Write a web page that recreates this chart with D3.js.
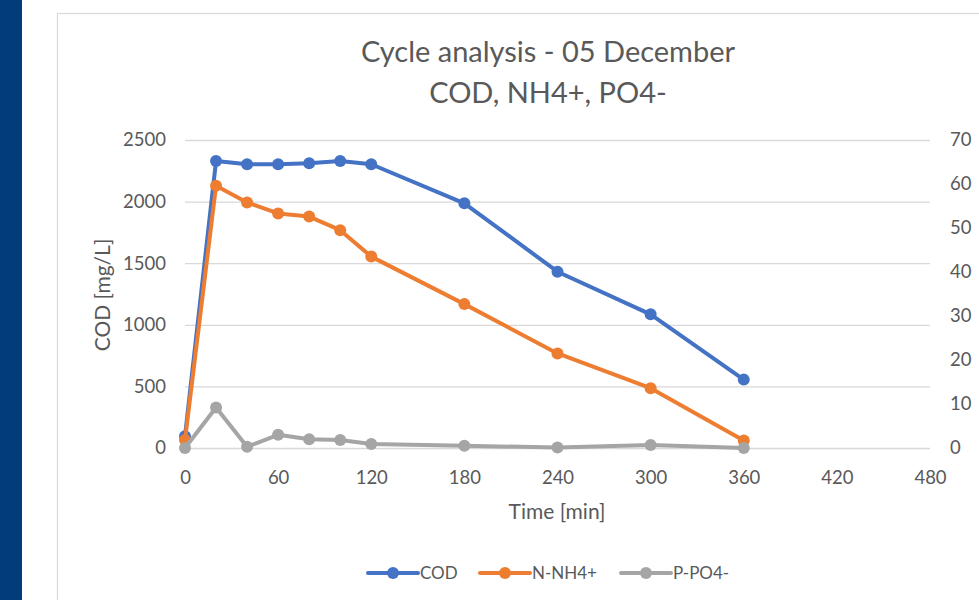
<!DOCTYPE html>
<meta charset="utf-8">
<style>
	body {
		margin: 0;
		background: #fff;
		font-family: Lato, "Open Sans", sans-serif;
	}
	svg text {
		fill: #595959;
		font-family: Lato, "Open Sans", sans-serif;
	}
</style>
<body>
<svg id="chart" width="979" height="600"></svg>
</body>
<script src="https://cdn.jsdelivr.net/npm/d3@7"></script>
<script>
	// values
	var times = [0, 20, 40, 60, 80, 100, 120, 180, 240, 300, 360];
	var cod = [95, 2330, 2303, 2303, 2311, 2330, 2303, 1986, 1431, 1085, 555]; // left axis, mg/L
	var nh4 = [1.8, 59.6, 55.8, 53.3, 52.6, 49.5, 43.5, 32.7, 21.5, 13.6, 1.7]; // right axis
	var po4 = [0, 9.2, 0.3, 3.0, 2.0, 1.8, 0.9, 0.5, 0.1, 0.7, 0]; // right axis
	var xTicks = [0, 60, 120, 180, 240, 300, 360, 420, 480];
	var leftTicks = [0, 500, 1000, 1500, 2000, 2500];
	var rightTicks = [0, 10, 20, 30, 40, 50, 60, 70];

	var series = [
		{name: "COD", values: cod, axis: "left", color: "#4472C4"},
		{name: "N-NH4+", values: nh4, axis: "right", color: "#ED7D31"},
		{name: "P-PO4-", values: po4, axis: "right", color: "#A5A5A5"}
	];

	var svg = d3.select("#chart");

	// dark side bar + chart frame
	svg.append("rect").attr("x", 0).attr("y", 0).attr("width", 22).attr("height", 600).attr("fill", "#023d7a");
	svg.append("rect").attr("x", 57.5).attr("y", 13.5).attr("width", 960).attr("height", 620)
		.attr("fill", "#fff").attr("stroke", "#d9d9d9").attr("stroke-width", 1.2);

	var x = d3.scaleLinear().domain([0, 480]).range([185, 930]);
	var yL = d3.scaleLinear().domain([0, 2500]).range([448, 140]);
	var yR = d3.scaleLinear().domain([0, 70]).range([448, 140]);

	// gridlines
	svg.append("g").selectAll("line").data(leftTicks).join("line")
		.attr("x1", 185).attr("x2", 930)
		.attr("y1", d => yL(d) + 0.5).attr("y2", d => yL(d) + 0.5)
		.attr("stroke", "#d9d9d9").attr("stroke-width", 1.3);

	// axes (no domain lines, Excel style)
	var gx = svg.append("g").attr("transform", "translate(0,448)")
		.call(d3.axisBottom(x).tickValues(xTicks).tickFormat(d3.format("d")).tickSize(0));
	var gl = svg.append("g").attr("transform", "translate(185,0)")
		.call(d3.axisLeft(yL).tickValues(leftTicks).tickFormat(d3.format("d")).tickSize(0).tickPadding(19));
	var gr = svg.append("g").attr("transform", "translate(930,0)")
		.call(d3.axisRight(yR).tickValues(rightTicks).tickFormat(d3.format("d")).tickSize(0).tickPadding(20));
	[gx, gl, gr].forEach(function(g) {
		g.select(".domain").remove();
		g.selectAll("text").attr("font-size", 18.5).attr("font-family", "Lato").attr("fill", "#595959");
	});
	gx.selectAll("text").attr("dy", "0.35em").attr("y", 30);

	// lines + markers
	var lineG = svg.append("g");
	series.forEach(function(s) {
		var yS = s.axis === "left" ? yL : yR;
		var pts = times.map((t, i) => [t, s.values[i]]);
		lineG.append("path").datum(pts)
			.attr("fill", "none").attr("stroke", s.color).attr("stroke-width", 4)
			.attr("stroke-linejoin", "round")
			.attr("d", d3.line().x(d => x(d[0])).y(d => yS(d[1])));
		lineG.append("g").selectAll("circle").data(pts).join("circle")
			.attr("cx", d => x(d[0])).attr("cy", d => yS(d[1])).attr("r", 6)
			.attr("fill", s.color);
	});

	// titles
	var title = svg.append("text").attr("text-anchor", "middle")
		.attr("font-size", 29).attr("font-family", "Lato");
	title.append("tspan").attr("x", 548).attr("y", 62).text("Cycle analysis - 05 December");
	title.append("tspan").attr("x", 548).attr("y", 103).text("COD, NH4+, PO4-");

	svg.append("text").attr("x", 557).attr("y", 519).attr("text-anchor", "middle")
		.attr("font-size", 21).attr("font-family", "Lato").text("Time [min]");
	svg.append("text").attr("transform", "translate(110,295) rotate(-90)")
		.attr("text-anchor", "middle").attr("font-size", 21).attr("font-family", "Lato")
		.text("COD [mg/L]");

	// legend
	var legX = [368, 480, 621];
	var leg = svg.append("g").selectAll("g").data(series).join("g")
		.attr("transform", (d, i) => "translate(" + legX[i] + ",573)");
	leg.append("line").attr("x1", 0).attr("x2", 50).attr("stroke", d => d.color).attr("stroke-width", 4)
		.attr("stroke-linecap", "round");
	leg.append("circle").attr("cx", 25).attr("r", 6).attr("fill", d => d.color);
	leg.append("text").attr("x", 52).attr("dy", "0.35em").attr("font-size", 17)
		.attr("font-family", "Lato").text(d => d.name);
</script>
